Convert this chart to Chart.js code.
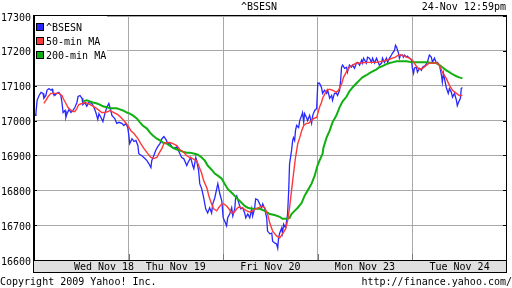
<!DOCTYPE html>
<html>
<head>
<meta charset="utf-8">
<script src="https://cdn.jsdelivr.net/npm/chart.js@4/dist/chart.umd.min.js"></script>
<style>
  html, body { margin: 0; padding: 0; background: #fff; }
  #wrap { width: 512px; height: 288px; }
</style>
</head>
<body>
<div id="wrap"><canvas id="chart-bsesn" width="512" height="288"></canvas></div>
<script>
// x values are trading minutes since the open of the first session (335 min per session)
const sessionMinutes = 335;
const dayBreaks  = [335, 670, 1005, 1340];
const dayLabels  = ['Wed Nov 18', 'Thu Nov 19', 'Fri Nov 20', 'Mon Nov 23', 'Tue Nov 24'];
const dayLabelAt = [248, 502, 837, 1172, 1507];

const seriesNames = ['^BSESN', '50-min MA', '200-min MA'];
const titleText = '^BSESN';
const stampText = '24-Nov 12:59pm';
const footLeft  = 'Copyright 2009 Yahoo! Inc.';
const footRight = 'http://finance.yahoo.com/';

// [minute, index value]
const price = [
  [0,17020],[4,17015],[7,17023],[11,17058],[18,17072],[25,17081],[32,17078],[35,17064],[42,17072],[46,17087],
  [53,17092],[60,17087],[64,17090],[67,17081],[74,17072],[81,17078],[88,17081],[95,17072],[99,17052],[103,17023],
  [110,17029],[113,17009],[117,17020],[124,17032],[131,17023],[138,17029],[145,17038],[152,17052],[156,17069],[163,17072],
  [170,17064],[173,17046],[180,17052],[187,17041],[194,17052],[205,17049],[212,17038],[219,17023],[226,17003],[230,17020],
  [237,17009],[244,16997],[251,17020],[258,17038],[265,17049],[272,17029],[276,17015],[286,17006],[293,16992],[301,16995],
  [311,16992],[318,16986],[325,16992],[332,16980],[336,16957],[339,16934],[347,16948],[354,16940],[361,16943],[368,16928],
  [371,16905],[382,16899],[389,16894],[400,16885],[407,16876],[414,16865],[417,16885],[424,16899],[431,16914],[438,16925],
  [446,16934],[453,16948],[460,16954],[467,16946],[474,16934],[481,16934],[488,16925],[495,16920],[506,16925],[513,16911],
  [523,16894],[530,16891],[541,16871],[545,16879],[555,16894],[562,16871],[566,16862],[573,16894],[576,16885],[583,16856],
  [587,16819],[594,16804],[601,16778],[608,16747],[615,16735],[622,16750],[629,16735],[633,16761],[640,16778],[647,16804],
  [651,16819],[658,16790],[665,16770],[670,16721],[675,16712],[682,16698],[686,16721],[693,16732],[700,16750],[704,16726],
  [711,16747],[714,16778],[718,16784],[725,16764],[732,16747],[739,16750],[746,16735],[750,16721],[757,16732],[764,16721],
  [771,16747],[774,16726],[781,16747],[785,16775],[792,16773],[799,16761],[806,16750],[810,16761],[817,16747],[824,16721],
  [827,16683],[835,16675],[842,16677],[845,16654],[852,16649],[859,16646],[863,16634],[866,16663],[870,16677],[877,16692],
  [880,16677],[884,16703],[891,16692],[898,16732],[902,16799],[905,16876],[912,16914],[916,16943],[919,16951],[923,16943],
  [926,16971],[930,16986],[937,16980],[941,17000],[948,17015],[951,17023],[955,16995],[958,17020],[965,17009],[969,17000],
  [976,17015],[983,16992],[987,17015],[994,17029],[1001,17035],[1005,17107],[1011,17107],[1018,17095],[1022,17078],[1029,17087],
  [1036,17078],[1040,17087],[1047,17064],[1054,17072],[1057,17058],[1064,17078],[1071,17078],[1075,17072],[1082,17087],[1086,17116],
  [1089,17153],[1093,17159],[1100,17150],[1107,17153],[1110,17139],[1117,17159],[1124,17153],[1128,17159],[1135,17150],[1142,17165],
  [1146,17167],[1153,17159],[1160,17173],[1163,17165],[1167,17179],[1177,17165],[1181,17182],[1188,17179],[1195,17167],[1199,17179],
  [1206,17165],[1213,17179],[1216,17173],[1223,17159],[1231,17165],[1234,17179],[1241,17167],[1248,17179],[1252,17167],[1259,17179],
  [1266,17188],[1269,17193],[1277,17202],[1280,17216],[1284,17211],[1291,17193],[1294,17179],[1298,17188],[1305,17188],[1308,17182],
  [1312,17188],[1319,17182],[1322,17185],[1330,17179],[1337,17173],[1340,17150],[1344,17136],[1347,17150],[1354,17153],[1358,17139],
  [1365,17150],[1372,17144],[1376,17153],[1386,17159],[1393,17167],[1400,17188],[1407,17182],[1411,17167],[1418,17179],[1425,17165],
  [1429,17167],[1436,17159],[1443,17130],[1446,17110],[1450,17136],[1457,17107],[1460,17095],[1467,17078],[1471,17092],[1478,17081],
  [1482,17067],[1489,17078],[1496,17058],[1499,17043],[1503,17052],[1510,17064],[1513,17092],[1517,17095]
];

const ma50 = [
  [35,17049],[42,17058],[50,17069],[60,17078],[67,17078],[81,17078],[88,17078],[99,17072],[103,17064],[113,17049],
  [120,17038],[127,17032],[138,17026],[145,17026],[152,17035],[159,17046],[170,17049],[180,17052],[191,17049],[205,17043],
  [216,17038],[226,17032],[240,17023],[251,17023],[262,17026],[269,17029],[283,17023],[297,17017],[308,17009],[318,17000],
  [332,16986],[343,16971],[354,16963],[368,16948],[378,16934],[389,16920],[403,16905],[414,16894],[424,16891],[435,16894],
  [442,16905],[453,16920],[460,16934],[470,16937],[481,16937],[492,16934],[506,16928],[516,16917],[527,16911],[541,16899],
  [552,16894],[562,16891],[576,16885],[583,16871],[594,16848],[601,16827],[612,16807],[619,16784],[629,16761],[636,16747],
  [647,16741],[654,16750],[665,16761],[672,16761],[682,16755],[690,16747],[700,16735],[707,16735],[718,16747],[725,16752],
  [735,16750],[743,16747],[753,16741],[764,16738],[774,16741],[785,16747],[796,16750],[806,16755],[817,16750],[827,16732],
  [835,16706],[845,16683],[859,16669],[870,16663],[880,16675],[891,16689],[898,16712],[905,16750],[912,16799],[919,16848],
  [926,16894],[934,16934],[941,16951],[948,16971],[955,16986],[965,16992],[972,16992],[983,17000],[990,17006],[1001,17009],
  [1005,17020],[1011,17038],[1018,17052],[1022,17064],[1029,17075],[1036,17087],[1047,17090],[1057,17087],[1071,17081],[1078,17087],
  [1089,17104],[1096,17124],[1107,17141],[1117,17153],[1128,17159],[1142,17165],[1160,17165],[1177,17167],[1195,17167],[1213,17167],
  [1231,17170],[1248,17173],[1259,17176],[1269,17179],[1280,17182],[1291,17188],[1301,17188],[1312,17185],[1319,17182],[1330,17179],
  [1340,17173],[1347,17165],[1354,17156],[1365,17147],[1376,17150],[1390,17159],[1400,17165],[1411,17165],[1425,17165],[1436,17159],
  [1446,17139],[1460,17121],[1471,17101],[1482,17087],[1496,17078],[1506,17072],[1517,17072]
];

const ma200 = [
  [173,17055],[187,17058],[198,17055],[209,17052],[223,17049],[233,17046],[244,17041],[258,17038],[269,17035],[293,17035],
  [304,17032],[315,17029],[329,17023],[339,17020],[350,17015],[364,17006],[375,16995],[385,16986],[400,16977],[410,16966],
  [421,16957],[435,16948],[446,16943],[456,16937],[470,16934],[481,16928],[492,16922],[506,16917],[516,16914],[527,16911],
  [541,16908],[552,16908],[569,16905],[580,16902],[594,16894],[605,16885],[615,16871],[629,16859],[640,16848],[651,16842],
  [665,16833],[675,16819],[686,16804],[700,16793],[711,16784],[721,16775],[735,16764],[746,16755],[757,16750],[771,16747],
  [785,16747],[799,16747],[817,16741],[835,16732],[852,16729],[870,16724],[880,16718],[895,16718],[905,16721],[912,16732],
  [923,16741],[934,16750],[948,16764],[958,16784],[969,16799],[983,16819],[994,16842],[1004,16871],[1011,16885],[1022,16905],
  [1025,16922],[1036,16951],[1047,16971],[1057,16995],[1071,17015],[1082,17038],[1093,17055],[1107,17069],[1117,17084],[1128,17095],
  [1142,17107],[1153,17116],[1163,17124],[1177,17130],[1188,17136],[1199,17141],[1213,17147],[1223,17153],[1234,17156],[1248,17162],
  [1259,17165],[1269,17167],[1284,17170],[1294,17170],[1319,17170],[1340,17167],[1365,17167],[1390,17167],[1411,17165],[1425,17165],
  [1436,17159],[1446,17153],[1460,17144],[1471,17139],[1482,17133],[1496,17127],[1506,17124],[1517,17121]
];

const COLORS = { price: '#2828ff', ma50: '#ff3838', ma200: '#10b010', grid: '#a8a8a8', band: '#e0e0e0' };
const FONT = '10px "DejaVu Sans Mono", "Liberation Mono", monospace';

const toXY = arr => arr.map(([x, y]) => ({ x, y }));

// frame, date band, legend box and page texts
const yahooFrame = {
  id: 'yahooFrame',
  beforeDraw(chart) {
    const { ctx, chartArea: a } = chart;
    ctx.save();
    ctx.fillStyle = '#fff';
    ctx.fillRect(0, 0, chart.width, chart.height);
    ctx.fillStyle = COLORS.band;
    ctx.fillRect(a.left, a.bottom, a.right - a.left, chart.scales.x.height);
    ctx.restore();
  },
  afterDraw(chart) {
    const { ctx, chartArea: a } = chart;
    const xs = chart.scales.x, ys = chart.scales.y;
    ctx.save();
    ctx.fillStyle = '#000';
    // plot border
    ctx.fillRect(a.left - 1, a.top - 1, a.right - a.left + 1, 1);
    ctx.fillRect(a.left - 1, a.top - 1, 2, a.bottom - a.top + 1);
    ctx.fillRect(a.right - 1, a.top - 1, 1, a.bottom - a.top + 1);
    // band border
    const bh = xs.height;
    ctx.fillRect(a.left - 1, a.bottom, a.right - a.left + 1, 1);
    ctx.fillRect(a.left - 1, a.bottom + bh - 1, a.right - a.left + 1, 1);
    ctx.fillRect(a.left - 1, a.bottom, 1, bh);
    ctx.fillRect(a.right - 1, a.bottom, 1, bh);
    // small tick marks on both sides
    ys.ticks.forEach(t => {
      const py = Math.round(ys.getPixelForValue(t.value));
      ctx.fillRect(a.left, py, 3, 1);
      ctx.fillRect(a.right - 4, py, 3, 1);
    });
    ctx.fillStyle = '#777';
    dayBreaks.forEach(v => {
      const px = Math.round(xs.getPixelForValue(v));
      ctx.fillRect(px, a.bottom - 6, 1, 6);
    });

    // legend box
    ctx.fillStyle = '#fff';
    ctx.fillRect(a.left + 1, a.top, 72, 44);
    ctx.font = FONT;
    ctx.textBaseline = 'middle';
    chart.data.datasets.forEach((ds, i) => {
      const cy = a.top + 11 + i * 14;
      ctx.fillStyle = ds.borderColor;
      ctx.fillRect(a.left + 3, cy - 3, 6, 6);
      ctx.strokeStyle = '#000';
      ctx.lineWidth = 1;
      ctx.strokeRect(a.left + 2.5, cy - 3.5, 7, 7);
      ctx.fillStyle = '#000';
      ctx.textAlign = 'left';
      ctx.fillText(ds.label, a.left + 12, cy + 1);
    });

    // title, time stamp, footer
    ctx.fillStyle = '#000';
    ctx.textAlign = 'center';
    ctx.fillText(titleText, 259, 7);
    ctx.textAlign = 'right';
    ctx.fillText(stampText, 506, 7);
    ctx.textAlign = 'left';
    ctx.fillText(footLeft, 0, 282);
    ctx.textAlign = 'right';
    ctx.fillText(footRight, 512, 282);
    ctx.restore();
  }
};

const labelFor = v => {
  const i = dayLabelAt.indexOf(v);
  return i >= 0 ? dayLabels[i] : '';
};

new Chart(document.getElementById('chart-bsesn'), {
  type: 'line',
  data: {
    datasets: [
      { label: seriesNames[0], data: toXY(price), borderColor: COLORS.price, borderWidth: 1.3, order: 3 },
      { label: seriesNames[1], data: toXY(ma50),  borderColor: COLORS.ma50,  borderWidth: 1.4, order: 1 },
      { label: seriesNames[2], data: toXY(ma200), borderColor: COLORS.ma200, borderWidth: 2,   order: 2 },
    ]
  },
  options: {
    responsive: false,
    animation: false,
    devicePixelRatio: 1,
    elements: { point: { radius: 0 }, line: { tension: 0, fill: false } },
    layout: { padding: { top: 16, right: 5, bottom: 15, left: 0 } },
    plugins: { legend: { display: false }, tooltip: { enabled: false }, title: { display: false } },
    scales: {
      x: {
        type: 'linear',
        min: 0,
        max: sessionMinutes * dayLabels.length,
        afterBuildTicks: s => {
          s.ticks = [...dayBreaks, ...dayLabelAt].sort((p, q) => p - q).map(value => ({ value }));
        },
        afterFit: s => { s.height = 13; },
        ticks: {
          autoSkip: false, maxRotation: 0, minRotation: 0, padding: 1,
          color: '#000', font: { family: '"DejaVu Sans Mono", monospace', size: 10 },
          callback: v => labelFor(v)
        },
        grid: {
          drawTicks: false,
          color: c => (c.tick && dayBreaks.includes(c.tick.value)) ? COLORS.grid : 'rgba(0,0,0,0)'
        },
        border: { display: false }
      },
      y: {
        type: 'linear',
        min: 16600,
        max: 17300,
        afterFit: s => { s.width = 34; },
        ticks: {
          stepSize: 100, padding: 3, labelOffset: 2,
          color: '#000', font: { family: '"DejaVu Sans Mono", monospace', size: 10 },
          callback: v => String(v)
        },
        grid: { drawTicks: false, color: COLORS.grid },
        border: { display: false }
      }
    }
  },
  plugins: [yahooFrame]
});
</script>
</body>
</html>
